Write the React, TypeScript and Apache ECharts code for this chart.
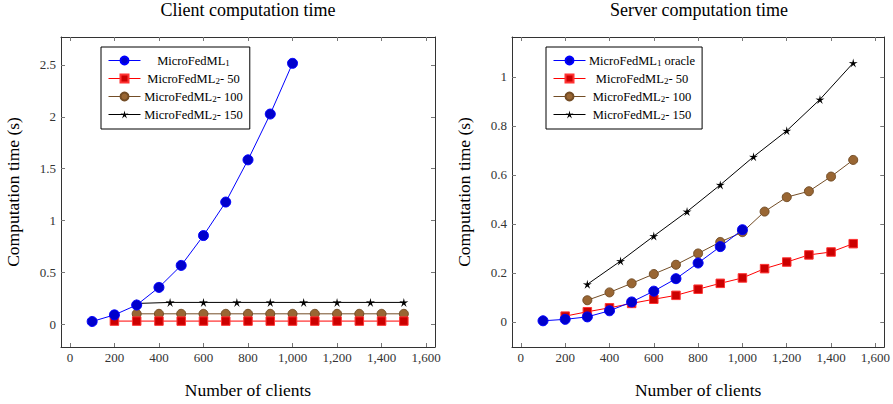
import React, { useEffect, useRef } from 'react';
import * as echarts from 'echarts';

// ---------- data ----------
const xTicks = [0, 200, 400, 600, 800, 1000, 1200, 1400, 1600];
const clientYTicks = [0, 0.5, 1, 1.5, 2, 2.5];
const serverYTicks = [0, 0.2, 0.4, 0.6, 0.8, 1];

const clientsFed1 = [100, 200, 300, 400, 500, 600, 700, 800, 900, 1000];
const clientsFed2_50 = [200, 300, 400, 500, 600, 700, 800, 900, 1000, 1100, 1200, 1300, 1400, 1500];
const clientsFed2_100 = [300, 400, 500, 600, 700, 800, 900, 1000, 1100, 1200, 1300, 1400, 1500];
const clientsFed2_150 = [300, 450, 600, 750, 900, 1050, 1200, 1350, 1500];

const clientFed1 = [0.026, 0.09, 0.185, 0.355, 0.567, 0.855, 1.178, 1.585, 2.027, 2.516];
const clientFed2_50 = [0.03, 0.03, 0.03, 0.03, 0.03, 0.03, 0.03, 0.03, 0.03, 0.03, 0.03, 0.03, 0.03, 0.03];
const clientFed2_100 = [0.1, 0.1, 0.1, 0.1, 0.1, 0.1, 0.1, 0.1, 0.1, 0.1, 0.1, 0.1, 0.1];
const clientFed2_150 = [0.2, 0.21, 0.21, 0.21, 0.21, 0.21, 0.21, 0.21, 0.21];

const serverFed1 = [0.004, 0.01, 0.02, 0.045, 0.081, 0.125, 0.176, 0.24, 0.307, 0.376];
const serverFed2_50 = [0.023, 0.041, 0.057, 0.075, 0.092, 0.108, 0.133, 0.157, 0.179, 0.217, 0.244, 0.273, 0.285, 0.319];
const serverFed2_100 = [0.088, 0.12, 0.157, 0.195, 0.233, 0.279, 0.326, 0.366, 0.45, 0.509, 0.533, 0.593, 0.661];
const serverFed2_150 = [0.153, 0.248, 0.35, 0.45, 0.559, 0.674, 0.78, 0.908, 1.057];

const NAME_F1 = 'MicroFedML1';
const NAME_F1_ORACLE = 'MicroFedML1 oracle';
const NAME_50 = 'MicroFedML2- 50';
const NAME_100 = 'MicroFedML2- 100';
const NAME_150 = 'MicroFedML2- 150';

// ---------- helpers ----------
const pairs = (xs: number[], ys: number[]) => xs.map((x, i) => [x, ys[i]]);

function starPath(): string {
  const pts: string[] = [];
  for (let i = 0; i < 10; i++) {
    const r = i % 2 === 0 ? 10 : 3.2;
    const a = -Math.PI / 2 + (i * Math.PI) / 5;
    pts.push(`${(10 + r * Math.cos(a)).toFixed(2)} ${(10 + r * Math.sin(a)).toFixed(2)}`);
  }
  return 'path://M' + pts.join(' L') + ' Z';
}
const STAR = starPath();

const FONT = '"Liberation Serif", "Times New Roman", serif';

const fmtX = (v: number) => v.toLocaleString('en-US');

function makeSeries(name: string, xs: number[], ys: number[], kind: number, gi: number) {
  const styles = [
    { symbol: 'circle', symbolSize: 10, line: '#0000ff', fill: '#0000cc', border: '#0000ff' },
    { symbol: 'rect', symbolSize: 8.5, line: '#ff0000', fill: '#cc0000', border: '#ff3333' },
    { symbol: 'circle', symbolSize: 9, line: '#734d26', fill: '#996633', border: '#734d26' },
    { symbol: STAR, symbolSize: 9, line: '#000000', fill: '#000000', border: '#000000' },
  ];
  const s = styles[kind];
  return {
    type: 'line',
    name,
    xAxisIndex: gi * 2,
    yAxisIndex: gi * 2,
    data: pairs(xs, ys),
    symbol: s.symbol,
    symbolSize: s.symbolSize,
    showSymbol: true,
    lineStyle: { color: s.line, width: 1 },
    itemStyle: { color: s.fill, borderColor: s.border, borderWidth: kind === 3 ? 0 : 1 },
    emphasis: { disabled: true },
    z: 10 - kind,
  };
}

function xAxes(gi: number) {
  const common = {
    type: 'value',
    gridIndex: gi,
    min: -40,
    max: 1640,
    splitLine: { show: false },
    axisLine: { show: true, onZero: false, lineStyle: { color: '#333', width: 1 } },
    axisTick: { show: true, inside: true, length: 4, lineStyle: { color: '#777', width: 1 }, customValues: xTicks },
  };
  return [
    {
      ...common,
      position: 'bottom',
      axisLabel: { customValues: xTicks, formatter: fmtX, margin: 4, color: '#333', fontFamily: FONT, fontSize: 13 },
      name: 'Number of clients',
      nameLocation: 'middle',
      nameGap: 34,
      nameTextStyle: { color: '#000', fontFamily: FONT, fontSize: 17.5 },
    },
    { ...common, position: 'top', axisLabel: { show: false } },
  ];
}

function yAxes(gi: number, min: number, max: number, ticks: number[]) {
  const common = {
    type: 'value',
    gridIndex: gi,
    min,
    max,
    splitLine: { show: false },
    axisLine: { show: true, onZero: false, lineStyle: { color: '#333', width: 1 } },
    axisTick: { show: true, inside: true, length: 4, lineStyle: { color: '#777', width: 1 }, customValues: ticks },
  };
  return [
    {
      ...common,
      position: 'left',
      axisLabel: { customValues: ticks, formatter: (v: number) => String(v), margin: 5, color: '#333', fontFamily: FONT, fontSize: 13 },
      name: 'Computation time (s)',
      nameLocation: 'middle',
      nameGap: 39,
      nameTextStyle: { color: '#000', fontFamily: FONT, fontSize: 17.5 },
    },
    { ...common, position: 'right', axisLabel: { show: false } },
  ];
}

function legend(left: number, names: string[], textWidth: number) {
  return {
    left,
    top: 47,
    orient: 'vertical',
    data: names,
    backgroundColor: '#fff',
    borderColor: '#000',
    borderWidth: 1,
    borderRadius: 0,
    padding: [7, 7, 8, 7],
    itemGap: 5,
    itemWidth: 32,
    itemHeight: 10,
    selectedMode: false,
    lineStyle: { width: 1 },
    formatter: (n: string) => {
      const m = n.match(/^MicroFedML(\d)(.*)$/);
      if (!m) return `{t|${n}}`;
      return `{t|MicroFedML}{sub|${m[1]}}{t|${m[2]}}`;
    },
    textStyle: {
      fontFamily: FONT,
      fontSize: 12.5,
      color: '#000',
      width: textWidth,
      lineHeight: 13,
      rich: {
        t: { fontFamily: FONT, fontSize: 12.5, lineHeight: 13, align: 'center', color: '#000' },
        sub: { fontFamily: FONT, fontSize: 9, verticalAlign: 'bottom', lineHeight: 13, padding: [4, 0, 0, 0], align: 'center', color: '#000' },
      },
    },
  };
}

export default function App() {
  const ref = useRef<HTMLDivElement>(null);
  useEffect(() => {
    if (!ref.current) return;
    const chart = echarts.init(ref.current, undefined, { renderer: 'svg' });
    const option = {
      animation: false,
      backgroundColor: '#fff',
      textStyle: { fontFamily: FONT },
      grid: [
        { left: 61, top: 37, width: 374, height: 311, containLabel: false },
        { left: 512, top: 37, width: 374, height: 311, containLabel: false },
      ],
      xAxis: [...xAxes(0), ...xAxes(1)],
      yAxis: [...yAxes(0, -0.22, 2.77, clientYTicks), ...yAxes(1, -0.103, 1.163, serverYTicks)],
      legend: [
        legend(101, [NAME_F1, NAME_50, NAME_100, NAME_150], 96),
        legend(546, [NAME_F1_ORACLE, NAME_50, NAME_100, NAME_150], 103),
      ],
      graphic: [
        {
          type: 'text',
          x: 248,
          y: 10,
          style: { text: 'Client computation time', font: `18px ${FONT}`, fill: '#000', textAlign: 'center', textVerticalAlign: 'middle' },
        },
        {
          type: 'text',
          x: 699,
          y: 10,
          style: { text: 'Server computation time', font: `18px ${FONT}`, fill: '#000', textAlign: 'center', textVerticalAlign: 'middle' },
        },
      ],
      series: [
        makeSeries(NAME_F1, clientsFed1, clientFed1, 0, 0),
        makeSeries(NAME_50, clientsFed2_50, clientFed2_50, 1, 0),
        makeSeries(NAME_100, clientsFed2_100, clientFed2_100, 2, 0),
        makeSeries(NAME_150, clientsFed2_150, clientFed2_150, 3, 0),
        makeSeries(NAME_F1_ORACLE, clientsFed1, serverFed1, 0, 1),
        makeSeries(NAME_50, clientsFed2_50, serverFed2_50, 1, 1),
        makeSeries(NAME_100, clientsFed2_100, serverFed2_100, 2, 1),
        makeSeries(NAME_150, clientsFed2_150, serverFed2_150, 3, 1),
      ],
    };
    chart.setOption(option as any);
    return () => chart.dispose();
  }, []);
  return <div ref={ref} style={{ position: 'absolute', left: 0, top: 0, width: 893, height: 404 }} />;
}
